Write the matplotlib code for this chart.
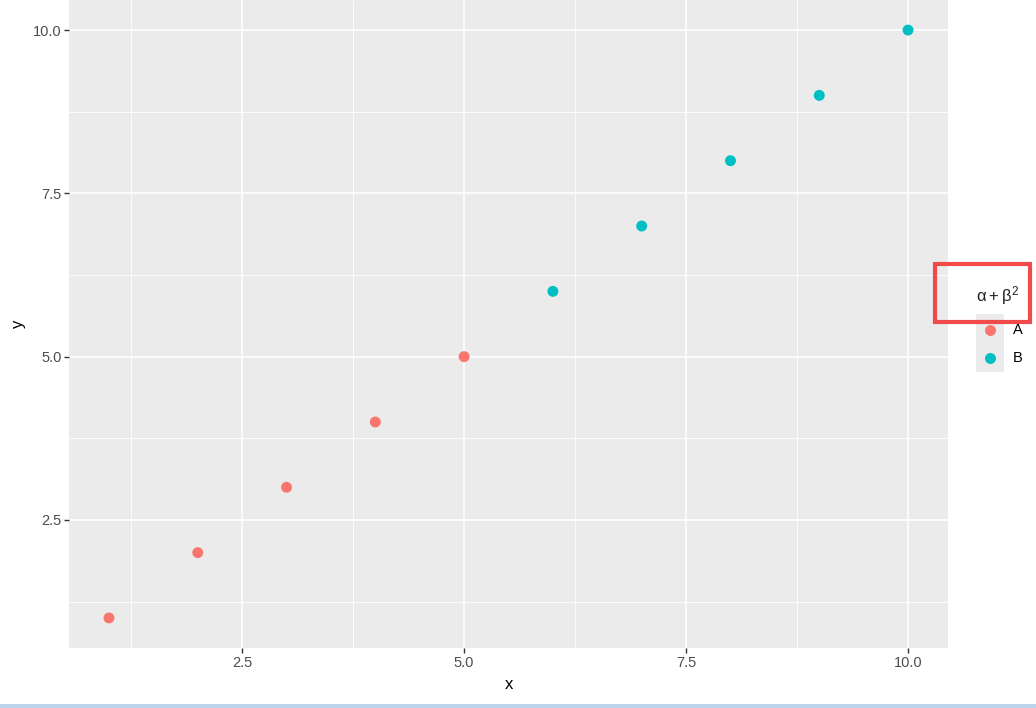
import matplotlib
matplotlib.use("Agg")
import matplotlib.pyplot as plt
from matplotlib.patches import Rectangle
from matplotlib.lines import Line2D

plt.rcParams["font.family"] = ["Liberation Sans", "DejaVu Sans"]
plt.rcParams["mathtext.default"] = "regular"
plt.rcParams["mathtext.fontset"] = "custom"
plt.rcParams["mathtext.rm"] = "Liberation Sans"

x = [1, 2, 3, 4, 5, 6, 7, 8, 9, 10]
y = [1, 2, 3, 4, 5, 6, 7, 8, 9, 10]
groups = ["A", "A", "A", "A", "A", "B", "B", "B", "B", "B"]
colors = {"A": "#F8766D", "B": "#00BFC4"}
xticks = [2.5, 5.0, 7.5, 10.0]
yticks = [2.5, 5.0, 7.5, 10.0]
minor = [1.25, 3.75, 6.25, 8.75]

W, H = 1036, 708
fig = plt.figure(figsize=(W / 100, H / 100), dpi=100)
fig.patch.set_facecolor("white")
ax = fig.add_axes([69 / W, (H - 648) / H, 879 / W, 648 / H])
ax.set_facecolor("#EBEBEB")
for s in ax.spines.values():
    s.set_visible(False)

ax.set_xlim(0.55, 10.45)
ax.set_ylim(0.54, 10.46)
ax.set_xticks(xticks)
ax.set_yticks(yticks)
ax.set_xticklabels([f"{v:.1f}" for v in xticks])
ax.set_yticklabels([f"{v:.1f}" for v in yticks])
ax.set_xticks(minor, minor=True)
ax.set_yticks(minor, minor=True)
ax.grid(which="major", color="white", linewidth=1.2)
ax.grid(which="minor", color="white", linewidth=0.6)
ax.set_axisbelow(True)
ax.tick_params(which="major", length=3.5, width=1, color="#333333",
               labelcolor="#4D4D4D", labelsize=10.5, pad=2)
ax.tick_params(which="minor", length=0)

for g in ["A", "B"]:
    xs = [xi for xi, gi in zip(x, groups) if gi == g]
    ys = [yi for yi, gi in zip(y, groups) if gi == g]
    ax.scatter(xs, ys, s=62, color=colors[g], edgecolors="none", zorder=3)

ax.set_xlabel("x", fontsize=12, color="black", labelpad=5)
ax.set_ylabel("y", fontsize=12, color="black", labelpad=5)

# Legend
fig.text(998 / W, 1 - 296 / H, r"$\alpha+\beta^2$", fontsize=12,
         ha="center", va="center", color="#222222")
fig.patches.append(Rectangle((976 / W, 1 - 372 / H), 28 / W, 58 / H,
                             transform=fig.transFigure, facecolor="#EBEBEB",
                             edgecolor="none"))
for g, py in zip(["A", "B"], [330, 358]):
    fig.lines.append(Line2D([990 / W], [1 - py / H], transform=fig.transFigure,
                            marker="o", markersize=7.9, color=colors[g],
                            markeredgewidth=0, linestyle="none"))
    fig.text(1013 / W, 1 - py / H, g, fontsize=10.5, ha="left", va="center",
             color="black")

# red highlight box
fig.patches.append(Rectangle((935 / W, 1 - 322 / H), 95 / W, 58 / H,
                             transform=fig.transFigure, facecolor="none",
                             edgecolor="#F04A4A", linewidth=3))
# bottom blue strip
fig.patches.append(Rectangle((0, 0), 1, 4 / H, transform=fig.transFigure,
                             facecolor="#BCD3EC", edgecolor="none"))

fig.savefig("out.png", dpi=100)
